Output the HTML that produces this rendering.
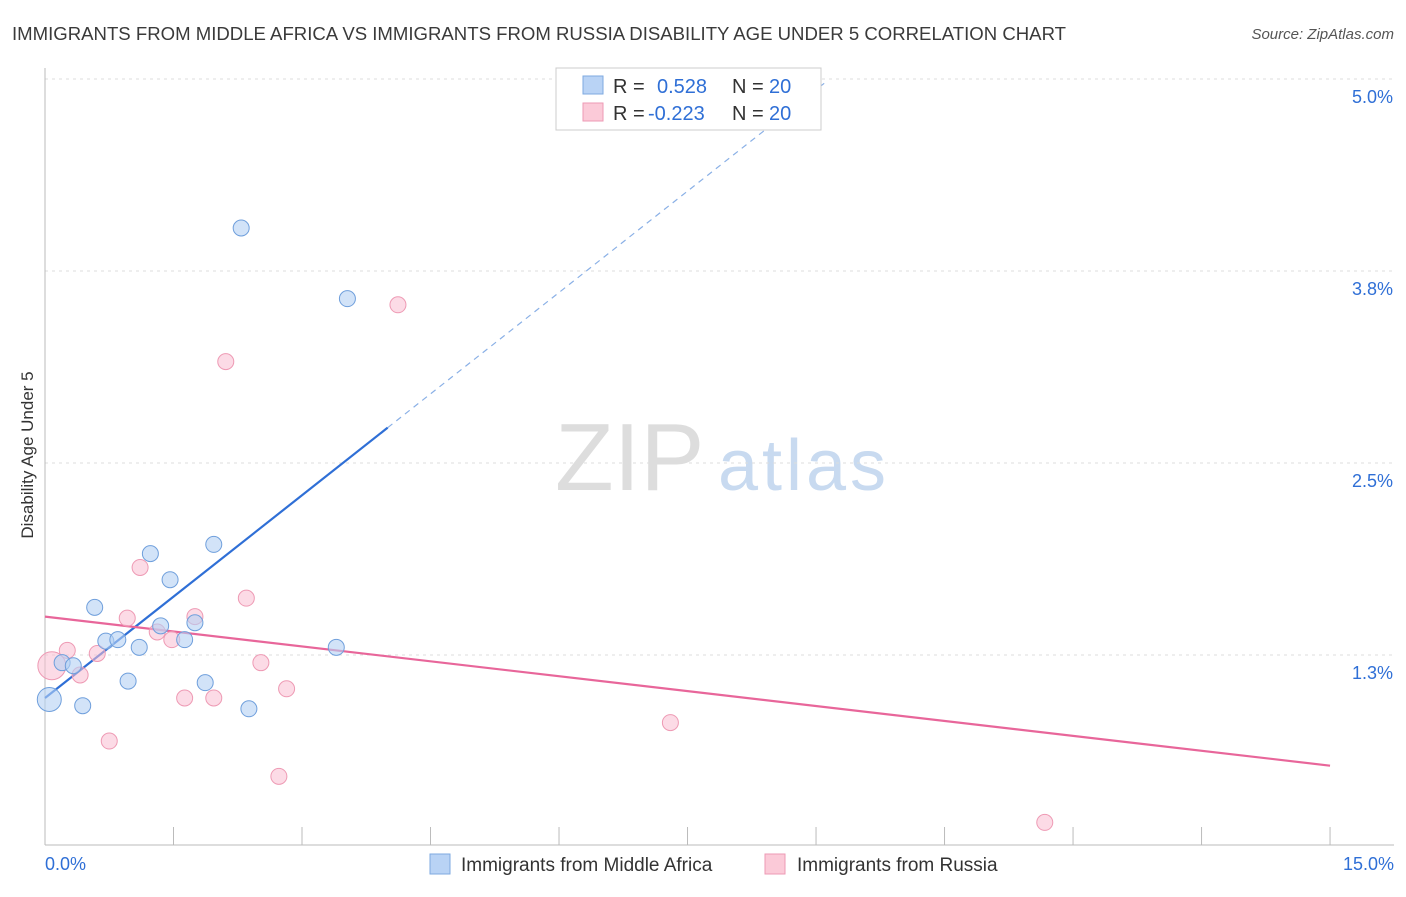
<!DOCTYPE html>
<html><head><meta charset="utf-8"><style>
body{margin:0;background:#fff;font-family:"Liberation Sans",sans-serif;}
svg text{font-family:"Liberation Sans",sans-serif;}
</style></head><body>
<svg id="c" width="1406" height="892" xmlns="http://www.w3.org/2000/svg">
<text x="12" y="40" font-size="18" fill="#3a3a3a" textLength="1054" lengthAdjust="spacingAndGlyphs">IMMIGRANTS FROM MIDDLE AFRICA VS IMMIGRANTS FROM RUSSIA DISABILITY AGE UNDER 5 CORRELATION CHART</text>
<text x="1394" y="39" font-size="15" fill="#555" text-anchor="end" font-style="italic">Source: ZipAtlas.com</text>
<text x="33" y="455" font-size="17" fill="#333" text-anchor="middle" transform="rotate(-90 33 455)">Disability Age Under 5</text>
<text x="555" y="490" font-size="96" fill="#ddd" font-family="Liberation Serif">ZIP</text>
<text x="718" y="490" font-size="72" fill="#c8daf0" textLength="168">atlas</text>
<g id="grid"></g><g id="lines"></g><g id="pts"></g>
<g>
<rect x="556" y="68" width="265" height="62" fill="#fff" stroke="#ccc"/>
<rect x="583" y="76" width="20" height="18" fill="#b9d3f5" stroke="#7ea9e0"/>
<rect x="583" y="103" width="20" height="18" fill="#fbcad8" stroke="#ee9ab4"/>
<text x="613" y="93" font-size="20" fill="#333">R =</text>
<text x="657" y="93" font-size="20" fill="#2f6fd6">0.528</text>
<text x="732" y="93" font-size="20" fill="#333">N =</text>
<text x="769" y="93" font-size="20" fill="#2f6fd6">20</text>
<text x="613" y="120" font-size="20" fill="#333">R =</text>
<text x="648" y="120" font-size="20" fill="#2f6fd6">-0.223</text>
<text x="732" y="120" font-size="20" fill="#333">N =</text>
<text x="769" y="120" font-size="20" fill="#2f6fd6">20</text>
</g>
<g>
<rect x="430" y="854" width="20" height="20" fill="#b9d3f5" stroke="#7ea9e0"/>
<text x="461" y="871" font-size="19" fill="#333">Immigrants from Middle Africa</text>
<rect x="765" y="854" width="20" height="20" fill="#fbcad8" stroke="#ee9ab4"/>
<text x="797" y="871" font-size="19" fill="#333">Immigrants from Russia</text>
</g>
</svg>
<script>
const yTicks=[1.25,2.5,3.75,5.0];
const yTickLabels=["1.3%","2.5%","3.8%","5.0%"];
const xTickLabels=["0.0%","15.0%"];
const blueX=[0.05,0.20,0.33,0.44,0.58,0.71,0.85,0.97,1.10,1.23,1.35,1.46,1.63,1.75,1.87,1.97,2.29,2.38,3.40,3.53];
const blueY=[0.96,1.20,1.18,0.92,1.56,1.34,1.35,1.08,1.30,1.91,1.44,1.74,1.35,1.46,1.07,1.97,4.03,0.90,1.30,3.57];
const pinkX=[0.08,0.26,0.41,0.61,0.75,0.96,1.11,1.31,1.48,1.75,1.63,1.97,2.11,2.35,2.52,2.73,2.82,4.12,7.30,11.67];
const pinkY=[1.18,1.28,1.12,1.26,0.69,1.49,1.82,1.40,1.35,1.50,0.97,0.97,3.16,1.62,1.20,0.46,1.03,3.53,0.81,0.16];
const blueTrend=[0.97,0.44];
const pinkTrend=[1.50,-0.0647];
const X=v=>45+v*85.67, Y=v=>847-v*153.6;
const NS="http://www.w3.org/2000/svg";
function mk(p,t,a){const e=document.createElementNS(NS,t);for(const k in a)e.setAttribute(k,a[k]);p.appendChild(e);return e;}
const g=document.getElementById('grid');
yTicks.forEach((v,i)=>{
 const l=mk(g,'line',{x1:45,x2:1394,y1:Y(v),y2:Y(v),stroke:'#ddd','stroke-dasharray':'3,4'});
 
 
 const t=mk(g,'text',{x:1393,y:Y(v)+24,'font-size':18,fill:'#2f6fd6','text-anchor':'end'});t.textContent=yTickLabels[i];
 
 
});
const ax=mk(g,'line',{x1:45,x2:45,y1:68,y2:845,stroke:'#bbb'});


const bx=mk(g,'line',{x1:45,x2:1394,y1:845,y2:845,stroke:'#bbb'});


for(let i=0;i<=10;i++){const t=mk(g,'line',{x1:X(i*1.5),x2:X(i*1.5),y1:827,y2:845,stroke:'#bbb'});
 
 }
[[0,'start',45],[15,'end',1394]].forEach((d,i)=>{const t=mk(g,'text',{x:d[2],y:870,'font-size':18,fill:'#2f6fd6','text-anchor':d[1]});t.textContent=xTickLabels[i];
 
 });
const L=document.getElementById('lines');
const b1=mk(L,'line',{x1:X(0),y1:Y(blueTrend[0]),x2:X(4),y2:Y(blueTrend[0]+4*blueTrend[1]),stroke:'#2f6fd6','stroke-width':2.2});


const b2=mk(L,'line',{x1:X(4),y1:Y(blueTrend[0]+4*blueTrend[1]),x2:X(9.1),y2:Y(blueTrend[0]+9.1*blueTrend[1]),stroke:'#8ab0e6','stroke-width':1.2,'stroke-dasharray':'6,5'});


const p1=mk(L,'line',{x1:X(0),y1:Y(pinkTrend[0]),x2:X(15),y2:Y(pinkTrend[0]+15*pinkTrend[1]),stroke:'#e8669a','stroke-width':2.2});


const P=document.getElementById('pts');
pinkX.forEach((x,i)=>{const c=mk(P,'circle',{cx:X(x),cy:Y(pinkY[i]),r:i==0?14:8,fill:'rgba(249,190,210,0.55)',stroke:'#ee9ab4','stroke-width':1});
 
 });
blueX.forEach((x,i)=>{const c=mk(P,'circle',{cx:X(x),cy:Y(blueY[i]),r:i==0?12:8,fill:'rgba(180,208,244,0.6)',stroke:'#6f9fdc','stroke-width':1});
 
 });
</script>
</body></html>
